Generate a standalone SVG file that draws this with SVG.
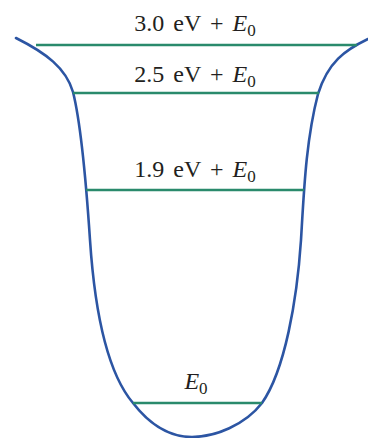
<svg xmlns="http://www.w3.org/2000/svg" width="368" height="438" viewBox="0 0 368 438">
<style>
.well{fill:none;stroke:#2c55a3;stroke-width:2.6;stroke-linecap:round}
.lvl{stroke:#2a8a6c;stroke-width:2.6}
.lbl{font-family:"Liberation Serif","Times New Roman",serif;font-size:24px;fill:#231f20;text-anchor:middle;word-spacing:3px}
.it{font-style:italic}
.sub{font-size:17px}
</style>
<rect width="368" height="438" fill="#ffffff"/>
<g id="connectors">
<path id="well" class="well" d="M16,38 C46,53 66,68 73,92 C80,120 86,180 90,240 C94,300 105,370 133,403 C150,425 170,437 192,437 C215,437 245,425 262,403 C285,370 297,300 301,240 C304,190 306,140 318,94 C328,62 345,50 368,39"/>
</g>
<g id="level-3-0">
<line class="lvl" x1="36" y1="45" x2="357" y2="45"/>
<text class="lbl" x="195" y="31">3.0 eV + <tspan class="it">E</tspan><tspan class="sub" dy="5">0</tspan></text>
</g>
<g id="level-2-5">
<line class="lvl" x1="73" y1="93" x2="319" y2="93"/>
<text class="lbl" x="195" y="82">2.5 eV + <tspan class="it">E</tspan><tspan class="sub" dy="5">0</tspan></text>
</g>
<g id="level-1-9">
<line class="lvl" x1="86" y1="190" x2="304" y2="190"/>
<text class="lbl" x="195" y="177">1.9 eV + <tspan class="it">E</tspan><tspan class="sub" dy="5">0</tspan></text>
</g>
<g id="level-e0">
<line class="lvl" x1="133" y1="403" x2="262" y2="403"/>
<text class="lbl" x="196" y="389"><tspan class="it">E</tspan><tspan class="sub" dy="5">0</tspan></text>
</g>
</svg>
